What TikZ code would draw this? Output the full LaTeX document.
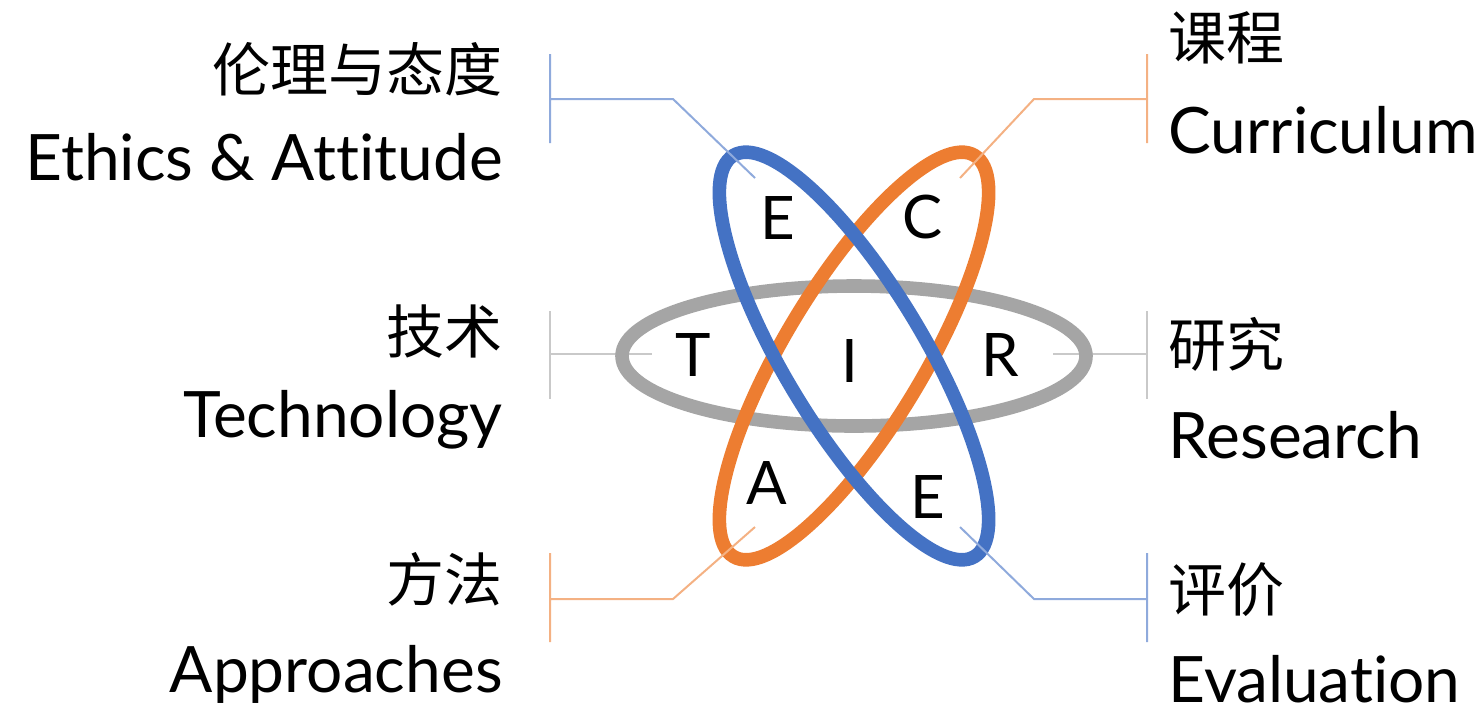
\documentclass[tikz,border=0pt]{standalone}
\usepackage{fontspec}
\setmainfont{Lato}[Ligatures={NoCommon,NoDiscretionary,NoContextual}]
\newfontfamily\cjk{Noto Sans CJK SC}
\definecolor{eblue}{HTML}{4472C4}
\definecolor{eorange}{HTML}{ED7D31}
\definecolor{egray}{HTML}{A5A5A5}
\definecolor{lblue}{HTML}{8FAADC}
\definecolor{lorange}{HTML}{F4B183}
\definecolor{lgray}{HTML}{C9C9C9}
\begin{document}
\begin{tikzpicture}[x=0.5pt,y=-0.5pt,
  en/.style={inner sep=0pt,font=\fontsize{32pt}{36pt}\selectfont},
  zh/.style={inner sep=0pt,font=\cjk\fontsize{29pt}{33pt}\selectfont},
  letter/.style={inner sep=0pt,font=\fontsize{30pt}{34pt}\selectfont},
  ring/.style={line width=6.8pt},
  leader/.style={line width=1pt}]
\useasboundingbox (0,0) rectangle (1481,708);

% labels
\node[zh,anchor=base east] (ethzh) at (503,91) {伦理与态度};
\node[en,anchor=base east] (ethen) at (503,180) {Ethics \& Attitude};
\node[zh,anchor=base east] (teczh) at (503,353) {技术};
\node[en,anchor=base east] (tecen) at (503,437) {Technology};
\node[zh,anchor=base east] (appzh) at (503,601) {方法};
\node[en,anchor=base east] (appen) at (503,692) {Approaches};
\node[zh,anchor=base west] (curzh) at (1168,59) {课程};
\node[en,anchor=base west] (curen) at (1168,153) {Curriculum};
\node[zh,anchor=base west] (reszh) at (1168,366) {研究};
\node[en,anchor=base west] (resen) at (1168,458) {Research};
\node[zh,anchor=base west] (evazh) at (1168,611) {评价};
\node[en,anchor=base west] (evaen) at (1168,702) {Evaluation};

% leader coordinates
\coordinate (c) at (854,356);
\coordinate (tlA) at (550,54);  \coordinate (tlB) at (550,143);
\coordinate (tlM) at (550,99);  \coordinate (tlK) at (673,99);  \coordinate (tlE) at (755,178);
\coordinate (trA) at (1147,54); \coordinate (trB) at (1147,143);
\coordinate (trM) at (1147,99); \coordinate (trK) at (1034,99); \coordinate (trE) at (960,178);
\coordinate (mlA) at (550,311); \coordinate (mlB) at (550,399);
\coordinate (mlM) at (550,354); \coordinate (mlE) at (652,354);
\coordinate (mrA) at (1147,311); \coordinate (mrB) at (1147,399);
\coordinate (mrM) at (1147,354); \coordinate (mrE) at (1053,354);
\coordinate (blA) at (550,553); \coordinate (blB) at (550,642);
\coordinate (blM) at (550,599); \coordinate (blK) at (673,599); \coordinate (blE) at (755,527);
\coordinate (brA) at (1147,553); \coordinate (brB) at (1147,642);
\coordinate (brM) at (1147,599); \coordinate (brK) at (1034,599); \coordinate (brE) at (960,527);

\draw[leader,lgray] (mlA) -- (mlB) (mlM) -- (mlE);
\draw[leader,lgray] (mrA) -- (mrB) (mrM) -- (mrE);

% rings
\draw[ring,egray] (c) ellipse [x radius=116pt, y radius=35pt];
\draw[ring,eorange,rotate around={59:(c)}] (c) ellipse [x radius=117pt, y radius=35pt];
\draw[ring,eblue,rotate around={-59:(c)}] (c) ellipse [x radius=117pt, y radius=35pt];

\draw[leader,lblue] (tlA) -- (tlB) (tlM) -- (tlK) -- (tlE);
\draw[leader,lorange] (trA) -- (trB) (trM) -- (trK) -- (trE);
\draw[leader,lorange] (blA) -- (blB) (blM) -- (blK) -- (blE);
\draw[leader,lblue] (brA) -- (brB) (brM) -- (brK) -- (brE);

% letters
\node[letter] (lE1) at (778,218) {E};
\node[letter] (lC) at (923,217) {C};
\node[letter] (lT) at (693,355) {T};
\node[letter] (lI) at (850,361) {I};
\node[letter] (lR) at (1000,355) {R};
\node[letter] (lA) at (767,483) {A};
\node[letter] (lE2) at (928,497) {E};
\end{tikzpicture}
\end{document}
